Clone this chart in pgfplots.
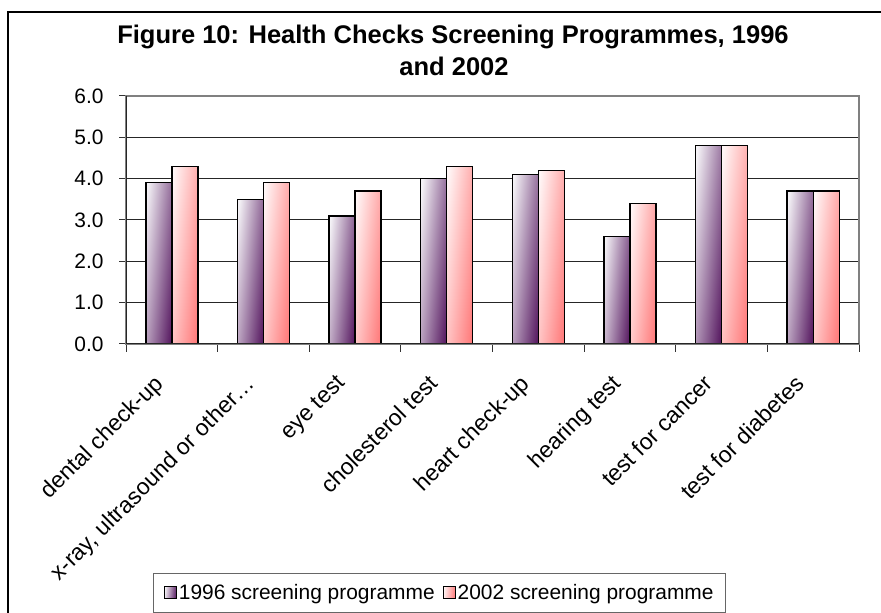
\documentclass[border=0pt]{standalone}
\usepackage{fontspec}
\setmainfont{Liberation Sans}
\usepackage{pgfplots}
\pgfplotsset{compat=1.18}
\definecolor{purpleDark}{HTML}{5A1E64}
\definecolor{purpleLight}{HTML}{F4F2F6}
\definecolor{pinkDark}{HTML}{FF7C7C}
\definecolor{pinkLight}{HTML}{FFF6F6}
\newcommand{\threedots}{\ldots}

% one shading per bar, so every bar is its own plot
\pgfplotsset{
  fill96/.style={draw=black, left color=purpleLight, right color=purpleDark, shading angle=84},
  fill02/.style={draw=black, left color=pinkLight, right color=pinkDark, shading angle=84},
  b96/.style={ybar, bar width=26bp, bar shift=-13bp, line width=1.4bp, fill96, forget plot},
  b02/.style={ybar, bar width=26bp, bar shift=13bp, line width=1.4bp, fill02, forget plot},
}

\begin{document}
\begin{tikzpicture}[x=1bp,y=1bp]
\path[use as bounding box] (0,0) rectangle (881,613);
\draw[line width=1.5bp] (8,-2) -- (8,601) -- (883,601);
\node[anchor=base, font=\fontsize{25.6}{29}\selectfont\bfseries, inner sep=0pt]
  at (453,569) {Figure 10: Health Checks Screening Programmes, 1996};
\node[anchor=base, font=\fontsize{25.6}{29}\selectfont\bfseries, inner sep=0pt]
  at (454,537) {and 2002};

\begin{axis}[
  at={(126bp,269bp)}, anchor=south west,
  scale only axis, width=733bp, height=248bp,
  xmin=0.5, xmax=8.5, ymin=0, ymax=6,
  axis line style={draw=black!50, line width=1.2bp},
  tick align=outside, tick pos=left,
  xtick={1,2,3,4,5,6,7,8},
  xticklabels={dental check-up, {x-ray, ultrasound or other\threedots}, eye test,
    cholesterol test, heart check-up, hearing test, test for cancer, test for diabetes},
  minor xtick={0.5,1.5,2.5,3.5,4.5,5.5,6.5,7.5,8.5},
  major x tick style={draw=none},
  minor x tick style={black!80, line width=1bp},
  minor tick length=8bp,
  ytick={0,1,2,3,4,5,6},
  major y tick style={black!80, line width=1bp},
  major tick length=7bp,
  ymajorgrids, major grid style={black!85, line width=1bp},
  yticklabel style={xshift=-12bp, /pgf/number format/.cd, fixed, fixed zerofill, precision=1, assume math mode=true},
  ticklabel style={font=\fontsize{21}{25}\selectfont},
  xticklabel style={rotate=45, anchor=north east, inner sep=2bp, xshift=-27.5bp, yshift=0bp,
    font=\fontsize{23}{27}\selectfont},
  legend columns=2,
  legend style={at={(axis description cs:0.428,-1.004)}, anchor=center,
    draw=black!60, line width=1bp, font=\fontsize{21}{25}\selectfont,
    inner xsep=10bp, inner ysep=9bp,
    /tikz/every even column/.append style={column sep=6bp}},
  legend image code/.code={\draw[#1, line width=1bp] (0bp,-6bp) rectangle (12bp,6bp);},
]
\addplot[b96] coordinates {(1,3.9)};
\addplot[b02] coordinates {(1,4.3)};
\addplot[b96] coordinates {(2,3.5)};
\addplot[b02] coordinates {(2,3.9)};
\addplot[b96] coordinates {(3,3.1)};
\addplot[b02] coordinates {(3,3.7)};
\addplot[b96] coordinates {(4,4.0)};
\addplot[b02] coordinates {(4,4.3)};
\addplot[b96] coordinates {(5,4.1)};
\addplot[b02] coordinates {(5,4.2)};
\addplot[b96] coordinates {(6,2.6)};
\addplot[b02] coordinates {(6,3.4)};
\addplot[b96] coordinates {(7,4.8)};
\addplot[b02] coordinates {(7,4.8)};
\addplot[b96] coordinates {(8,3.7)};
\addplot[b02] coordinates {(8,3.7)};
\addlegendimage{fill96}
\addlegendentry{1996 screening programme}
\addlegendimage{fill02}
\addlegendentry{2002 screening programme}
\draw[black!85, line width=1.2bp] (rel axis cs:0,1) -- (rel axis cs:0,0) -- (rel axis cs:1,0);
\end{axis}
\end{tikzpicture}
\end{document}
